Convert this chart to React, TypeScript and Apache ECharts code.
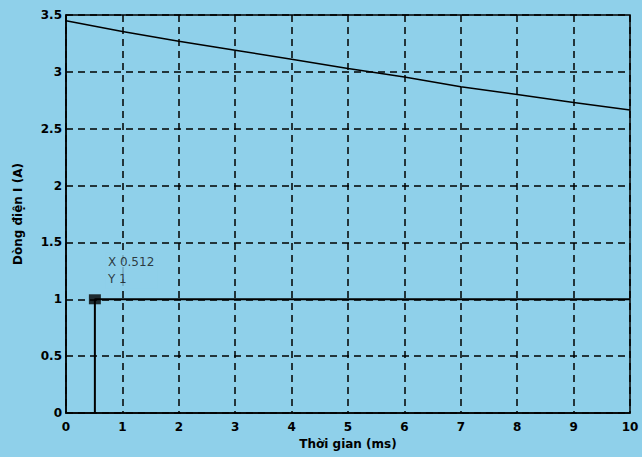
import React, { useEffect, useRef } from "react";
import * as echarts from "echarts";

const timeMs = [0, 1, 2, 3, 4, 5, 6, 7, 8, 9, 10];
const currentA = [3.45, 3.355, 3.27, 3.19, 3.11, 3.03, 2.955, 2.87, 2.8, 2.73, 2.665];
const stepX = [0.512, 0.512, 10];
const stepY = [0, 1, 1];
const tipX = 0.512;
const tipY = 1;

export default function App() {
  const ref = useRef<HTMLDivElement>(null);
  useEffect(() => {
    const chart = echarts.init(ref.current!, null, { renderer: "svg" });
    const axisLabel = { color: "#000", fontWeight: "bold" as const, fontSize: 12, fontFamily: "DejaVu Sans" };
    chart.setOption({
      animation: false,
      backgroundColor: "#8fd0ea",
      grid: { left: 66, right: 12, top: 15, bottom: 44, show: true, borderColor: "#000", borderWidth: 1.5, backgroundColor: "transparent" },
      xAxis: {
        type: "value", min: 0, max: 10, interval: 1,
        name: "Thời gian (ms)", nameLocation: "middle", nameGap: 24,
        nameTextStyle: { color: "#000", fontWeight: "bold", fontSize: 12, fontFamily: "DejaVu Sans" },
        axisLine: { show: true, lineStyle: { color: "#000", width: 1.5 } },
        axisTick: { show: false },
        axisLabel: { ...axisLabel, margin: 8 },
        splitLine: { show: true, lineStyle: { color: "#000", type: [7, 5], width: 1.5 } },
      },
      yAxis: {
        type: "value", min: 0, max: 3.5, interval: 0.5,
        name: "Dòng điện I (A)", nameLocation: "middle", nameGap: 42,
        nameTextStyle: { color: "#000", fontWeight: "bold", fontSize: 12, fontFamily: "DejaVu Sans" },
        axisLine: { show: true, lineStyle: { color: "#000", width: 1.5 } },
        axisTick: { show: false },
        axisLabel: { ...axisLabel, margin: 4 },
        splitLine: { show: true, lineStyle: { color: "#000", type: [7, 5], width: 1.5 } },
      },
      series: [
        {
          type: "line", data: timeMs.map((t, i) => [t, currentA[i]]),
          showSymbol: false, lineStyle: { color: "#000", width: 1.5 },
        },
        {
          type: "line", data: stepX.map((t, i) => [t, stepY[i]]),
          showSymbol: false, lineStyle: { color: "#000", width: 2 },
        },
        {
          type: "scatter", data: [[tipX, tipY]], symbol: "rect", symbolSize: [12, 10],
          itemStyle: { color: "#000" },
          z: 5,
          label: {
            show: true, position: [17, -42], color: "#111", fontSize: 12, fontFamily: "DejaVu Sans", lineHeight: 17,
            backgroundColor: "#8fd0ea", padding: [1, 3, 1, 2],
            formatter: () => `X 0.512\nY 1`,
          },
        },
      ],
    });
    return () => chart.dispose();
  }, []);
  return <div ref={ref} style={{ position: "absolute", left: 0, top: 0, width: 642, height: 457 }} />;
}
